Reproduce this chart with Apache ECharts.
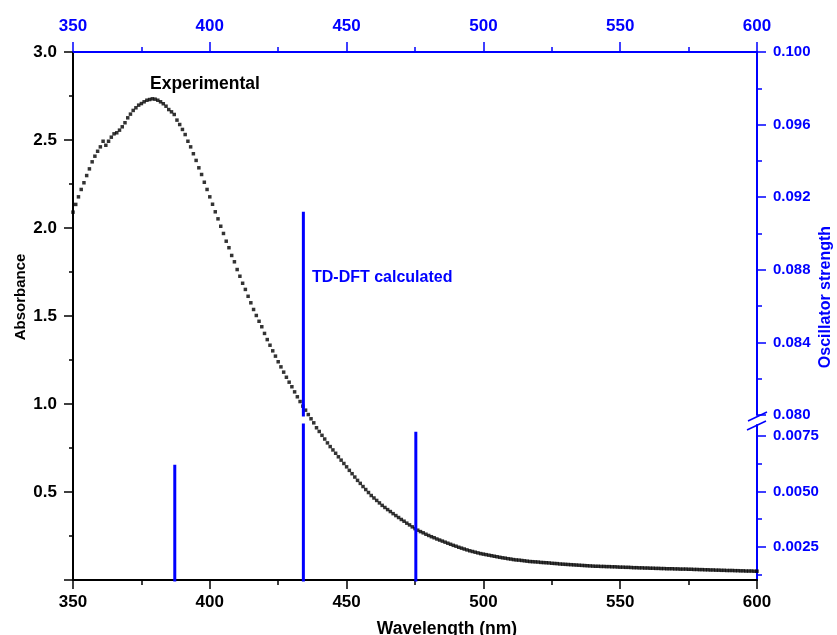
<!DOCTYPE html>
<html><head><meta charset="utf-8">
<script src="https://cdn.jsdelivr.net/npm/echarts@6/dist/echarts.min.js"></script>
<style>html,body{margin:0;padding:0;background:#fff}#c{width:837px;height:635px}</style>
</head><body><div id="c"></div>
<script>
// Experimental spectrum: one value per nm starting at 350 nm
const wavelengthStart = 350;
const absorbance = [
2.090,2.134,2.177,2.219,2.257,2.298,2.336,2.376,2.408,2.436,
2.461,2.493,2.470,2.493,2.516,2.535,2.541,2.556,2.575,2.598,
2.626,2.647,2.668,2.683,2.698,2.707,2.717,2.726,2.730,2.734,
2.732,2.726,2.717,2.706,2.692,2.673,2.660,2.645,2.613,2.588,
2.560,2.531,2.493,2.461,2.422,2.384,2.342,2.304,2.260,2.219,
2.177,2.135,2.092,2.052,2.010,1.969,1.925,1.888,1.844,1.808,
1.764,1.726,1.686,1.651,1.612,1.575,1.537,1.503,1.470,1.439,
1.401,1.366,1.334,1.302,1.272,1.240,1.211,1.181,1.152,1.124,
1.098,1.069,1.041,1.014,0.988,0.965,0.940,0.916,0.893,0.865,
0.844,0.822,0.801,0.779,0.758,0.739,0.720,0.700,0.681,0.662,
0.643,0.623,0.604,0.585,0.566,0.549,0.531,0.514,0.497,0.480,
0.466,0.452,0.438,0.424,0.412,0.400,0.389,0.377,0.366,0.355,
0.344,0.334,0.323,0.313,0.302,0.292,0.283,0.275,0.268,0.260,
0.253,0.246,0.240,0.233,0.227,0.221,0.215,0.209,0.203,0.197,
0.192,0.186,0.181,0.176,0.171,0.166,0.162,0.158,0.154,0.150,
0.147,0.144,0.141,0.138,0.135,0.132,0.129,0.126,0.124,0.121,
0.119,0.116,0.114,0.113,0.111,0.109,0.107,0.105,0.104,0.103,
0.102,0.100,0.099,0.098,0.097,0.095,0.094,0.093,0.091,0.090,
0.089,0.088,0.087,0.086,0.085,0.084,0.083,0.082,0.081,0.080,
0.079,0.078,0.078,0.077,0.077,0.076,0.076,0.075,0.075,0.074,
0.073,0.073,0.072,0.072,0.071,0.070,0.070,0.069,0.069,0.068,
0.068,0.067,0.067,0.066,0.066,0.065,0.065,0.064,0.064,0.064,
0.063,0.063,0.062,0.062,0.062,0.061,0.061,0.060,0.060,0.059,
0.059,0.058,0.058,0.057,0.057,0.056,0.056,0.055,0.055,0.054,
0.054,0.054,0.053,0.053,0.052,0.052,0.051,0.051,0.051,0.050,
0.050
];
// TD-DFT sticks
const stickWavelengths = [387.2, 434.2, 475.3];
const stickStrengths = [0.0062, 0.0912, 0.0077];
// axis ranges / ticks
const xRange = [350, 600];
const absRange = [0, 3];
const oscLowRange = [0.001, 0.008];
const oscHighRange = [0.080, 0.100];
const oscLowTicks = [0.0025, 0.0050, 0.0075];
const oscLowMinorTicks = [0.00125, 0.00375, 0.00625];

const BLUE = '#0000ff';
const FONT = 'Liberation Sans, Arial, sans-serif';

const expData = absorbance.map((a, i) => [wavelengthStart + i, a]);

const chart = echarts.init(document.getElementById('c'), null, {renderer: 'canvas'});

const tickLabel = (color, size) => ({color, fontSize: size, fontWeight: 'bold', fontFamily: FONT});

const stickSeries = [];
stickWavelengths.forEach((w, i) => {
  [[2, 1], [3, 3]].forEach(([xi, yi]) => {
    stickSeries.push({
      type: 'line', xAxisIndex: xi, yAxisIndex: yi, clip: true,
      symbol: 'none', silent: true, z: 5,
      lineStyle: {color: BLUE, width: 3, cap: 'butt'},
      data: [[w, 0], [w, stickStrengths[i]]]
    });
  });
});

const option = {
  animation: false,
  backgroundColor: '#fff',
  grid: [
    {left: 73, right: 80, top: 52, height: 528},
    {left: 73, right: 80, top: 425, height: 155},
    {left: 73, right: 80, top: 52, height: 363}
  ],
  xAxis: [
    {type: 'value', gridIndex: 0, position: 'bottom', min: xRange[0], max: xRange[1], interval: 50,
      axisLine: {lineStyle: {color: '#000', width: 2}},
      axisTick: {length: 9, lineStyle: {color: '#000', width: 1.5}},
      minorTick: {show: true, splitNumber: 2, length: 5, lineStyle: {color: '#000', width: 1.5}},
      axisLabel: Object.assign({margin: 14}, tickLabel('#000', 17)),
      splitLine: {show: false}},
    {type: 'value', gridIndex: 0, position: 'top', min: xRange[0], max: xRange[1], interval: 50,
      axisLine: {lineStyle: {color: BLUE, width: 2}},
      axisTick: {length: 10, lineStyle: {color: BLUE, width: 1.5}},
      minorTick: {show: true, splitNumber: 2, length: 5, lineStyle: {color: BLUE, width: 1.5}},
      axisLabel: Object.assign({margin: 17}, tickLabel(BLUE, 17)),
      splitLine: {show: false}},
    {type: 'value', gridIndex: 1, min: xRange[0], max: xRange[1], show: false},
    {type: 'value', gridIndex: 2, min: xRange[0], max: xRange[1], show: false}
  ],
  yAxis: [
    {type: 'value', gridIndex: 0, position: 'left', min: absRange[0], max: absRange[1], interval: 0.5,
      axisLine: {show: true, lineStyle: {color: '#000', width: 2}},
      axisTick: {show: true, length: 9, lineStyle: {color: '#000', width: 1.5}},
      minorTick: {show: true, splitNumber: 2, length: 4, lineStyle: {color: '#000', width: 1.5}},
      axisLabel: Object.assign({margin: 16, formatter: v => v === 0 ? '' : v.toFixed(1)}, tickLabel('#000', 17)),
      splitLine: {show: false}},
    {type: 'value', gridIndex: 1, position: 'right', min: oscLowRange[0], max: oscLowRange[1],
      axisLine: {show: true, lineStyle: {color: BLUE, width: 2}},
      axisTick: {show: true, length: 9, customValues: oscLowTicks, lineStyle: {color: BLUE, width: 1.5}},
      axisLabel: Object.assign({margin: 16, customValues: oscLowTicks, formatter: v => v.toFixed(4)}, tickLabel(BLUE, 15)),
      splitLine: {show: false}},
    {type: 'value', gridIndex: 1, position: 'right', min: oscLowRange[0], max: oscLowRange[1],
      axisLine: {show: false},
      axisTick: {show: true, length: 5, customValues: oscLowMinorTicks, lineStyle: {color: BLUE, width: 1.5}},
      axisLabel: {show: false},
      splitLine: {show: false}},
    {type: 'value', gridIndex: 2, position: 'right', min: oscHighRange[0], max: oscHighRange[1], interval: 0.004,
      axisLine: {show: true, lineStyle: {color: BLUE, width: 2}},
      axisTick: {show: true, length: 9, lineStyle: {color: BLUE, width: 1.5}},
      minorTick: {show: true, splitNumber: 2, length: 5, lineStyle: {color: BLUE, width: 1.5}},
      axisLabel: Object.assign({margin: 16, formatter: v => v.toFixed(3)}, tickLabel(BLUE, 15)),
      splitLine: {show: false}}
  ],
  series: [
    {type: 'scatter', xAxisIndex: 0, yAxisIndex: 0, symbol: 'rect', symbolSize: 3.5,
      itemStyle: {color: '#000'}, silent: true, z: 3, data: expData}
  ].concat(stickSeries),
  graphic: [
    {type: 'text', x: 150, y: 84, style: {text: 'Experimental', fill: '#000', font: 'bold 17.5px ' + FONT, align: 'left', verticalAlign: 'middle'}},
    {type: 'text', x: 312, y: 278, style: {text: 'TD-DFT calculated', fill: BLUE, font: 'bold 16px ' + FONT, align: 'left', verticalAlign: 'middle'}},
    {type: 'text', x: 447, y: 629, style: {text: 'Wavelength (nm)', fill: '#000', font: 'bold 17.5px ' + FONT, align: 'center', verticalAlign: 'middle'}},
    {type: 'text', x: 21, y: 297, rotation: Math.PI / 2, style: {text: 'Absorbance', fill: '#000', font: 'bold 15px ' + FONT, align: 'center', verticalAlign: 'middle'}},
    {type: 'text', x: 826, y: 297, rotation: Math.PI / 2, style: {text: 'Oscillator strength', fill: BLUE, font: 'bold 16px ' + FONT, align: 'center', verticalAlign: 'middle'}},
    {type: 'line', shape: {x1: 748, y1: 421, x2: 767, y2: 412}, style: {stroke: BLUE, lineWidth: 1.5}},
    {type: 'line', shape: {x1: 747, y1: 430, x2: 766, y2: 421}, style: {stroke: BLUE, lineWidth: 1.5}}
  ]
};
chart.setOption(option);
</script>
</body></html>
